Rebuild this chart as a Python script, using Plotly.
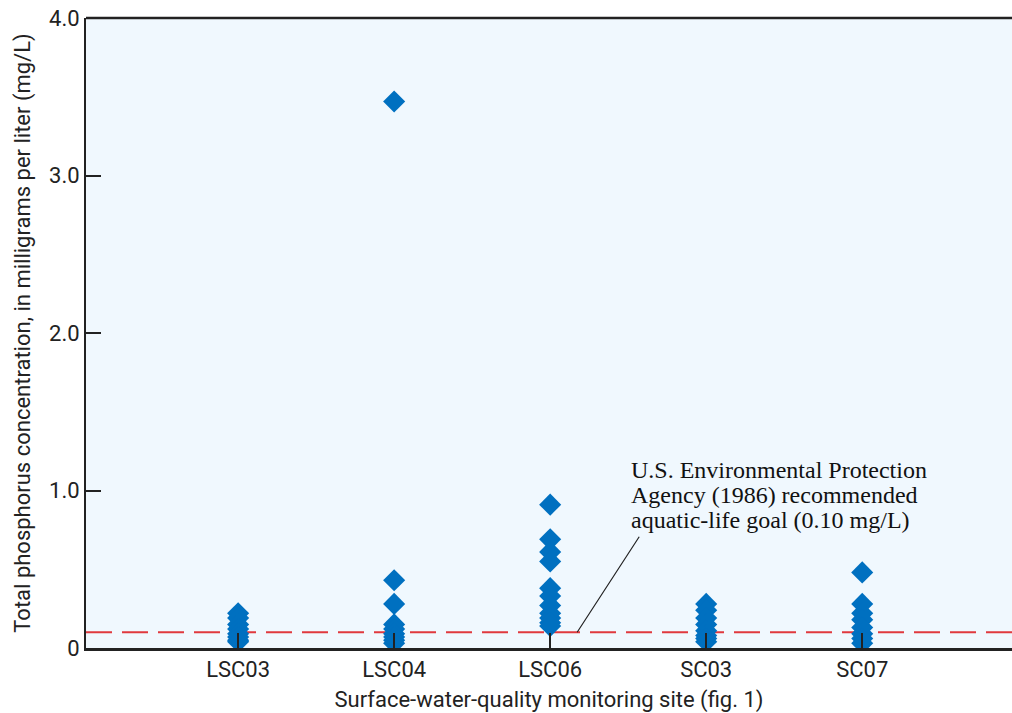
import plotly.graph_objects as go

sites = ["LSC03", "LSC04", "LSC06", "SC03", "SC07"]
lsc03 = [0.22, 0.19, 0.15, 0.12, 0.09, 0.07, 0.05, 0.04]
lsc04 = [3.47, 0.43, 0.28, 0.15, 0.12, 0.09, 0.07, 0.05, 0.03]
lsc06 = [0.91, 0.69, 0.61, 0.55, 0.38, 0.33, 0.27, 0.22, 0.19, 0.16, 0.14]
sc03 = [0.28, 0.24, 0.19, 0.15, 0.11, 0.08, 0.06, 0.04]
sc07 = [0.48, 0.28, 0.22, 0.18, 0.13, 0.09, 0.06, 0.03]
goal = 0.10
yticks = [0, 1.0, 2.0, 3.0, 4.0]
yticklabels = ["0", "1.0", "2.0", "3.0", "4.0"]
note_lines = ["U.S. Environmental Protection",
              "Agency (1986) recommended",
              "aquatic-life goal (0.10 mg/L)"]

series = [lsc03, lsc04, lsc06, sc03, sc07]
xs, ys = [], []
for s, vals in zip(sites, series):
    xs += [s] * len(vals)
    ys += vals

fig = go.Figure()
fig.add_shape(type="line", xref="paper", x0=0, x1=1, yref="y", y0=goal, y1=goal,
              line=dict(color="#e0393e", width=2, dash="26px,10px"), layer="below")
fig.add_trace(go.Scatter(
    x=xs, y=ys, mode="markers", showlegend=False,
    marker=dict(symbol="diamond", size=17, color="#0070c0", line=dict(width=0)),
))

fnt = "Liberation Sans Narrow, Roboto, Arial, sans-serif"
fig.update_layout(
    width=1012, height=713,
    margin=dict(l=86, r=0, t=18, b=65),
    paper_bgcolor="white", plot_bgcolor="#f0f8fe",
    font=dict(family=fnt, color="#222222", size=22),
    xaxis=dict(
        type="category", categoryorder="array", categoryarray=sites,
        range=[-0.975, 4.96], showgrid=False, zeroline=False,
        ticks="inside", ticklen=15, tickwidth=1.5, tickcolor="#222222",
        showline=True, linecolor="#222222", linewidth=2.5, mirror=False,
        tickfont=dict(size=22),
        title=dict(text="Surface-water-quality monitoring site (fig. 1)", font=dict(size=22), standoff=12),
    ),
    yaxis=dict(
        range=[0, 4.0], tickvals=yticks, ticktext=yticklabels,
        showgrid=False, zeroline=False,
        ticks="inside", ticklen=15, tickwidth=1.5, tickcolor="#222222",
        showline=True, linecolor="#222222", linewidth=2, mirror=False,
        tickfont=dict(size=22),
        title=dict(text="Total phosphorus concentration, in milligrams per liter (mg/L)",
                   font=dict(size=22), standoff=12),
    ),
)
# top border line
fig.add_shape(type="line", xref="paper", yref="paper", x0=0, x1=1, y0=1, y1=1,
              line=dict(color="#222222", width=2.5))
# leader line
fig.add_annotation(
    x="LSC06", y=goal, xref="x", yref="y", ax=63, ay=-97,
    text="", showarrow=True, arrowhead=0, arrowwidth=1.2, arrowcolor="#222222",
    xshift=27,
)
for i, line in enumerate(note_lines):
    fig.add_annotation(
        xref="paper", yref="paper", x=(629-86)/926, y=(648-(470+25*i))/630,
        xanchor="left", yanchor="middle",
        text=line, showarrow=False, align="left",
        font=dict(family="Liberation Serif, Times New Roman, serif", size=24, color="#111111"),
    )
fig.write_html("out.html")
